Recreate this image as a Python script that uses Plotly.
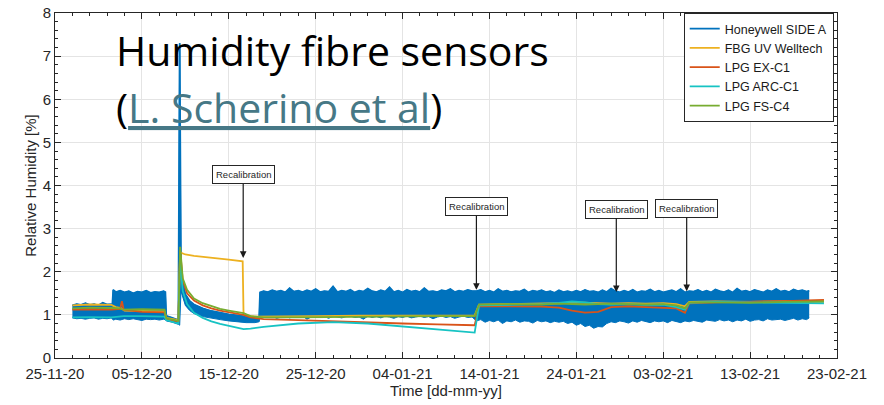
import numpy as np
import pandas as pd
import plotly.graph_objects as go

# ---- data: days counted from the start of the time axis ----
start_date = pd.Timestamp("2020-11-25")
end_date = pd.Timestamp("2021-02-23")

# Honeywell SIDE A: the raw signal is very noisy, drawn as its lower/upper envelope
hw_day_a = list(np.arange(2.0, 6.51, 0.5)) + [6.6, 6.7] + list(np.arange(7.0, 12.51, 0.5)) + [12.7]
hw_low_a = [0.93, 0.91, 0.92, 0.90, 0.92, 0.93, 0.90, 0.92, 0.91, 0.93, 0.90, 0.88,
            0.90, 0.88, 0.91, 0.89, 0.91, 0.89, 0.87, 0.90, 0.89, 0.90, 0.88, 0.90, 0.89]
hw_high_a = [1.22, 1.25, 1.23, 1.27, 1.23, 1.25, 1.22, 1.28, 1.24, 1.25, 1.23, 1.58,
             1.53, 1.56, 1.52, 1.55, 1.50, 1.54, 1.52, 1.56, 1.51, 1.53, 1.52, 1.55, 1.53]

# drop before the spike, spike, slow decay, then the long noisy plateau
hw_day_b = [12.8, 13.5, 14.2, 14.35, 14.5, 15.0, 15.5, 16.0, 17.0, 18.0, 19.0, 20.0,
            21.0, 22.0, 23.0, 23.5, 23.6]
hw_low_b = [0.86, 0.83, 0.78, 0.76, 1.55, 1.22, 1.10, 1.03, 0.96, 0.92, 0.89, 0.86,
            0.84, 0.82, 0.82, 0.84, 0.95]
hw_high_b = [0.98, 0.93, 0.88, 7.30, 1.95, 1.48, 1.32, 1.24, 1.15, 1.09, 1.05, 1.01,
             0.99, 0.97, 0.95, 0.96, 1.52]

hw_day_c = list(np.arange(24.0, 48.01, 0.5))
hw_low_c = [0.96, 0.94, 0.97, 0.92, 0.95, 0.97, 0.93, 0.96, 0.94, 0.97,
            0.90, 0.95, 0.97, 0.94, 0.96, 0.92, 0.97, 0.95, 0.93, 0.96,
            0.97, 0.94, 0.95, 0.90, 0.97, 0.94, 0.96, 0.93, 0.97, 0.95,
            0.92, 0.96, 0.94, 0.97, 0.93, 0.95, 0.97, 0.94, 0.96, 0.91,
            0.95, 0.97, 0.94, 0.96, 0.92, 0.95, 0.97, 0.94, 0.95]
hw_high_c = [1.55, 1.53, 1.57, 1.54, 1.56, 1.52, 1.62, 1.54, 1.56, 1.53,
             1.57, 1.54, 1.60, 1.53, 1.55, 1.54, 1.66, 1.53, 1.56, 1.54,
             1.58, 1.52, 1.56, 1.54, 1.61, 1.55, 1.53, 1.57, 1.54, 1.64,
             1.53, 1.56, 1.52, 1.58, 1.54, 1.56, 1.53, 1.62, 1.54, 1.55,
             1.53, 1.57, 1.55, 1.60, 1.53, 1.56, 1.54, 1.58, 1.55]

hw_day_d = list(np.arange(48.5, 86.51, 0.5)) + [86.8]
hw_low_d = [0.86, 0.89, 0.83, 0.87, 0.84, 0.88, 0.80, 0.86, 0.84, 0.88,
            0.83, 0.86, 0.85, 0.81, 0.87, 0.84, 0.86, 0.82, 0.85, 0.83,
            0.85, 0.80, 0.83, 0.76, 0.80, 0.73, 0.76, 0.69, 0.73, 0.72,
            0.80, 0.84, 0.82, 0.86, 0.84, 0.81, 0.86, 0.83, 0.87, 0.84,
            0.82, 0.86, 0.84, 0.86, 0.82, 0.87, 0.85, 0.82, 0.86, 0.84,
            0.87, 0.85, 0.83, 0.88, 0.86, 0.85, 0.89, 0.86, 0.88, 0.84,
            0.88, 0.86, 0.90, 0.85, 0.88, 0.89, 0.86, 0.91, 0.88, 0.89,
            0.90, 0.87, 0.90, 0.92, 0.88, 0.91, 0.89, 0.93]
hw_high_d = [1.55, 1.58, 1.53, 1.56, 1.52, 1.60, 1.54, 1.56, 1.53, 1.55,
             1.54, 1.59, 1.52, 1.56, 1.54, 1.57, 1.53, 1.55, 1.51, 1.57,
             1.53, 1.55, 1.52, 1.56, 1.53, 1.58, 1.54, 1.55, 1.52, 1.57,
             1.53, 1.61, 1.55, 1.52, 1.56, 1.53, 1.58, 1.52, 1.55, 1.54,
             1.59, 1.53, 1.56, 1.52, 1.55, 1.57, 1.53, 1.60, 1.52, 1.55,
             1.54, 1.58, 1.53, 1.56, 1.52, 1.59, 1.55, 1.53, 1.57, 1.52,
             1.61, 1.54, 1.56, 1.53, 1.58, 1.55, 1.52, 1.57, 1.54, 1.60,
             1.54, 1.56, 1.53, 1.59, 1.55, 1.57, 1.54, 1.56]

honeywell_day = hw_day_a + hw_day_b + hw_day_c + hw_day_d
honeywell_low = hw_low_a + hw_low_b + hw_low_c + hw_low_d
honeywell_high = hw_high_a + hw_high_b + hw_high_c + hw_high_d

fbg_day = [2.0, 4.0, 6.5, 7.0, 7.6, 8.0, 10.0, 12.6, 12.8, 14.2, 14.4, 15.0, 16.0, 18.0, 20.0,
           21.6, 21.7, 23.0, 26.0, 30.0, 35.0, 40.0, 45.0, 48.3, 48.8, 52, 56, 58, 60, 62, 64,
           66, 68, 70, 71.5, 72.5, 73.0, 76, 80, 84, 88.5]
fbg_rh = [1.22, 1.24, 1.23, 1.18, 1.16, 1.10, 1.09, 1.08, 0.93, 0.88, 2.45, 2.40, 2.37, 2.33,
          2.28, 2.24, 1.00, 0.96, 0.96, 0.97, 0.98, 0.98, 0.99, 0.99, 1.24, 1.25, 1.26, 1.27,
          1.29, 1.28, 1.26, 1.27, 1.26, 1.27, 1.25, 1.20, 1.30, 1.31, 1.30, 1.32, 1.33]

lpg_day = [2.0, 4.0, 6.5, 7.5, 7.7, 7.9, 10.0, 12.6, 12.8, 14.2, 14.4, 14.7, 15.2, 16.0, 17.0,
           18.0, 19.0, 20.0, 21.0, 21.7, 22.5, 24, 28, 32, 36, 40, 44, 48.3, 48.8, 52, 56, 58,
           59.5, 61, 62.5, 64, 66, 68, 70, 71.5, 72.5, 73.0, 76, 80, 84, 88.5]
ex_c1_rh = [1.12, 1.13, 1.12, 1.14, 1.32, 1.12, 1.07, 1.06, 0.90, 0.85, 2.50, 1.80, 1.50, 1.33,
            1.22, 1.15, 1.10, 1.06, 1.02, 1.00, 0.94, 0.90, 0.88, 0.85, 0.83, 0.80, 0.78, 0.76,
            1.20, 1.20, 1.19, 1.17, 1.10, 1.05, 1.07, 1.18, 1.20, 1.18, 1.17, 1.15, 1.05, 1.27,
            1.29, 1.30, 1.32, 1.35]
arc_c1_rh = [0.94, 0.95, 0.94, 0.96, 0.97, 0.97, 0.97, 0.96, 0.88, 0.80, 2.30, 1.55, 1.25, 1.05,
             0.93, 0.85, 0.79, 0.74, 0.70, 0.67, 0.68, 0.72, 0.80, 0.83, 0.80, 0.73, 0.66, 0.59,
             1.22, 1.23, 1.25, 1.28, 1.31, 1.29, 1.25, 1.24, 1.25, 1.23, 1.24, 1.18, 1.12, 1.28,
             1.30, 1.29, 1.28, 1.27]
fs_c4_rh = [1.15, 1.17, 1.16, 1.15, 1.13, 1.12, 1.13, 1.12, 0.92, 0.86, 2.58, 1.85, 1.58, 1.38,
            1.27, 1.20, 1.14, 1.10, 1.06, 1.04, 0.97, 0.94, 0.94, 0.95, 0.96, 0.96, 0.97, 0.97,
            1.24, 1.25, 1.24, 1.26, 1.25, 1.24, 1.25, 1.26, 1.25, 1.24, 1.25, 1.22, 1.15, 1.29,
            1.29, 1.28, 1.30, 1.31]

# recalibration events (day, level the arrow points at)
recal_day = [21.66, 48.5, 64.6, 72.7]
recal_rh = [2.32, 1.58, 1.53, 1.55]

series_names = ["Honeywell SIDE A", "FBG UV Welltech", "LPG EX-C1", "LPG ARC-C1", "LPG FS-C4"]
series_colors = ["#0072BD", "#EDB120", "#D95319", "#17C3C3", "#77AC30"]


def to_time(days):
    return start_date + pd.to_timedelta(pd.Series(days, dtype=float), unit="D")


fig = go.Figure()

# noise band of the Honeywell sensor (filled between its envelopes)
hw_t = to_time(honeywell_day)
fig.add_trace(go.Scatter(x=hw_t, y=honeywell_high, mode="lines", showlegend=False,
                         legendgroup="hw", hoverinfo="skip",
                         line=dict(color=series_colors[0], width=1)))
fig.add_trace(go.Scatter(x=hw_t, y=honeywell_low, mode="lines", showlegend=False,
                         legendgroup="hw", hoverinfo="skip",
                         line=dict(color=series_colors[0], width=1),
                         fill="tonexty", fillcolor=series_colors[0]))
# upper edge again as a plain line: carries the legend entry
fig.add_trace(go.Scatter(x=hw_t, y=honeywell_high, mode="lines", name=series_names[0],
                         legendgroup="hw", line=dict(color=series_colors[0], width=1.8)))

for days, vals, name, color in [
    (fbg_day, fbg_rh, series_names[1], series_colors[1]),
    (lpg_day, ex_c1_rh, series_names[2], series_colors[2]),
    (lpg_day, arc_c1_rh, series_names[3], series_colors[3]),
    (lpg_day, fs_c4_rh, series_names[4], series_colors[4]),
]:
    fig.add_trace(go.Scatter(x=to_time(days), y=vals, mode="lines", name=name,
                             line=dict(color=color, width=1.8)))

# recalibration call-outs
for d, v in zip(recal_day, recal_rh):
    fig.add_annotation(x=start_date + pd.Timedelta(days=d), y=v, xref="x", yref="y",
                       text="Recalibration", showarrow=True, ax=0, ay=-83,
                       arrowhead=2, arrowsize=1.1, arrowwidth=1.2, arrowcolor="#1a1a1a",
                       font=dict(family="Liberation Sans", size=9.5, color="#262626"),
                       bgcolor="white", bordercolor="#262626", borderwidth=1, borderpad=3)

# overlaid slide caption
fig.add_annotation(x=0.0756, y=0.893, xref="paper", yref="paper", xanchor="left",
                   yanchor="middle", showarrow=False, text="Humidity fibre sensors",
                   font=dict(family="Open Sans", size=41, color="black"))
fig.add_annotation(x=0.0756, y=0.727, xref="paper", yref="paper", xanchor="left",
                   yanchor="middle", showarrow=False,
                   text="(<span style='color:#467886'><u>L. Scherino et al</u></span>)",
                   font=dict(family="Open Sans", size=41, color="black"))

axis_common = dict(
    showline=True, linecolor="#262626", linewidth=1, mirror="ticks",
    ticks="inside", ticklen=6, tickcolor="#262626", tickwidth=1,
    showgrid=True, gridcolor="#e4e4e4", gridwidth=1, zeroline=False,
    automargin=False,
    tickfont=dict(family="Liberation Sans", size=15, color="#262626"),
)

fig.update_xaxes(
    **axis_common,
    type="date", range=[start_date, end_date],
    tick0=start_date, dtick=10 * 86400000, tickformat="%d-%m-%y",
    ticklabelstandoff=2,
    minor=dict(dtick=2 * 86400000, ticks="inside", ticklen=3, tickcolor="#262626",
               showgrid=False),
    title=dict(text="Time [dd-mm-yy]", standoff=2,
               font=dict(family="Liberation Sans", size=15, color="#262626")),
)
fig.update_yaxes(
    **axis_common,
    range=[0, 8], dtick=1,
    minor=dict(dtick=0.2, ticks="inside", ticklen=3, tickcolor="#262626", showgrid=False),
    title=dict(text="Relative Humidity [%]", standoff=2,
               font=dict(family="Liberation Sans", size=15, color="#262626")),
)

fig.update_layout(
    width=884, height=405,
    margin=dict(l=55, r=47, t=13, b=47),
    paper_bgcolor="white", plot_bgcolor="white",
    showlegend=True,
    legend=dict(x=0.804, y=1.0, xanchor="left", yanchor="top", traceorder="normal",
                bgcolor="white", bordercolor="#262626", borderwidth=1,
                font=dict(family="Liberation Sans", size=12.5, color="#1a1a1a"),
                itemwidth=30, tracegroupgap=0),
)

fig.write_html("out.html")
